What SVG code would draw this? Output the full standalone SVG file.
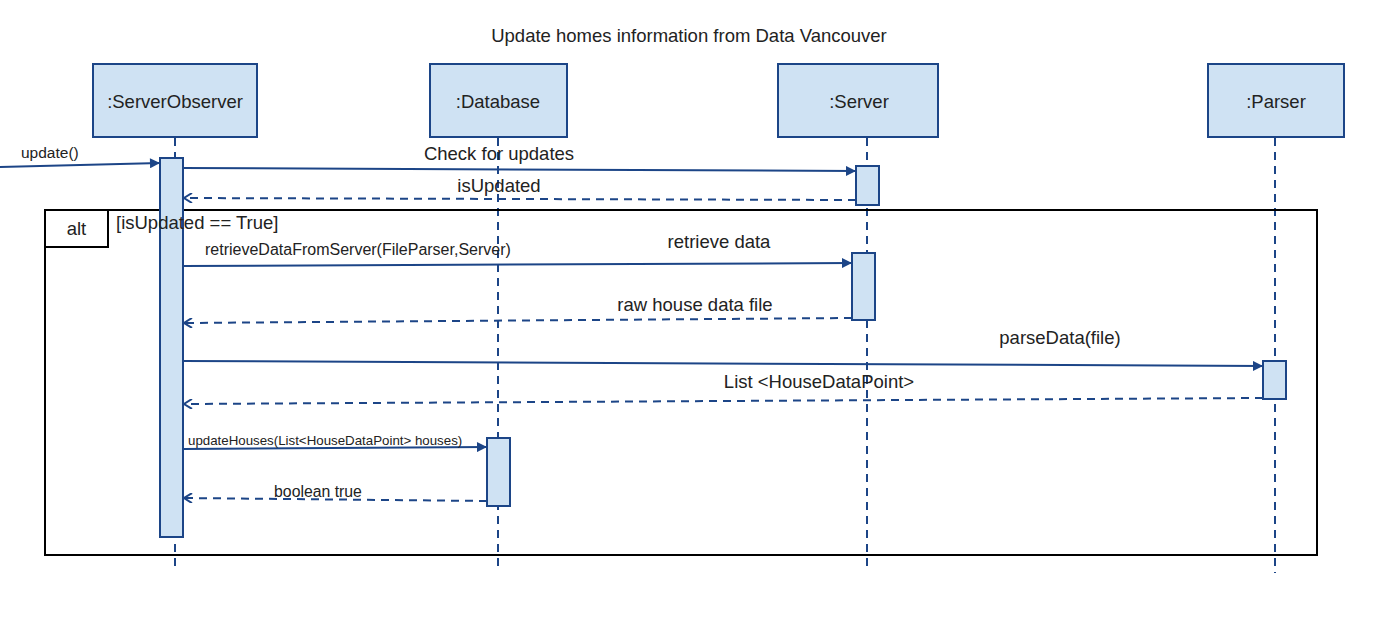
<svg xmlns="http://www.w3.org/2000/svg" width="1385" height="643" viewBox="0 0 1385 643">
<defs>
<style>
text{font-family:"Liberation Sans",Arial,sans-serif;fill:#222}
.node rect.box{fill:#cfe2f3;stroke:#1c4587;stroke-width:2}
.lbl{font-size:18.5px;text-anchor:middle}
.life{stroke:#1c4587;stroke-width:2;stroke-dasharray:8,6;fill:none}
.act{fill:#cfe2f3;stroke:#1c4587;stroke-width:2}
.msg{stroke:#1c4587;stroke-width:2;fill:none;marker-end:url(#filled)}
.ret{stroke:#1c4587;stroke-width:2;stroke-dasharray:8,6;fill:none;marker-end:url(#open)}
.sm{font-size:16px}
</style>
<marker id="filled" viewBox="0 0 10 10" refX="10" refY="5" markerWidth="12" markerHeight="10" markerUnits="userSpaceOnUse" orient="auto"><path d="M0,0 L10,5 L0,10 z" fill="#1c4587"/></marker>
<marker id="open" viewBox="0 0 10 10" refX="9" refY="5" markerWidth="12" markerHeight="10" markerUnits="userSpaceOnUse" orient="auto"><path d="M1,0 L9,5 L1,10" fill="none" stroke="#1c4587" stroke-width="2"/></marker>
</defs>
<rect width="1385" height="643" fill="#fff"/>
<text x="689" y="42" class="lbl">Update homes information from Data Vancouver</text>

<g id="lifelines">
<line class="life" x1="175" y1="138" x2="175" y2="567"/>
<line class="life" x1="498" y1="138" x2="498" y2="567"/>
<line class="life" x1="867" y1="138" x2="867" y2="567"/>
<line class="life" x1="1275" y1="138" x2="1275" y2="573"/>
</g>

<g id="alt-frame">
<rect x="45" y="210" width="1272" height="345" fill="none" stroke="#000" stroke-width="2"/>
<rect x="45" y="210" width="63" height="37" fill="#fff" stroke="#000" stroke-width="2"/>
<text x="76.5" y="235" class="lbl">alt</text>
</g>

<g id="node-serverobserver" class="node">
<rect class="box" x="93" y="64" width="164" height="73"/>
<text x="175" y="108" class="lbl">:ServerObserver</text>
<rect class="act" x="160" y="158" width="23" height="379"/>
</g>
<g id="node-database" class="node">
<rect class="box" x="430" y="64" width="137" height="73"/>
<text x="498" y="108" class="lbl">:Database</text>
<rect class="act" x="487" y="438" width="23" height="68"/>
</g>
<g id="node-server" class="node">
<rect class="box" x="778" y="64" width="160" height="73"/>
<text x="859" y="108" class="lbl">:Server</text>
<rect class="act" x="856" y="166" width="23" height="39"/>
<rect class="act" x="852" y="253" width="23" height="67"/>
</g>
<g id="node-parser" class="node">
<rect class="box" x="1208" y="64" width="136" height="73"/>
<text x="1276" y="108" class="lbl">:Parser</text>
<rect class="act" x="1263" y="361" width="23" height="38"/>
</g>

<g id="guard">
<text x="116" y="229" style="font-size:18.5px">[isUpdated == True]</text>
</g>

<g id="connectors">
<path class="msg" d="M0,167 L160,163"/>
<text x="21" y="158" style="font-size:15.5px">update()</text>

<path class="msg" d="M183,168 L856,171"/>
<text x="499" y="160" class="lbl">Check for updates</text>

<path class="ret" d="M856,200 L184,198"/>
<text x="499" y="192" class="lbl">isUpdated</text>

<path class="msg" d="M183,266 L852,263"/>
<text x="205" y="255" class="sm">retrieveDataFromServer(FileParser,Server)</text>
<text x="719" y="248" class="lbl">retrieve data</text>

<path class="ret" d="M852,318 L184,323"/>
<text x="695" y="311" class="lbl">raw house data file</text>

<path class="msg" d="M183,361 L1263,366"/>
<text x="1060" y="344" class="lbl">parseData(file)</text>

<path class="ret" d="M1263,398 L184,404"/>
<text x="819" y="388" class="lbl">List &lt;HouseDataPoint&gt;</text>

<path class="msg" d="M183,449 L487,447"/>
<text x="188" y="445" style="font-size:13.3px">updateHouses(List&lt;HouseDataPoint&gt; houses)</text>

<path class="ret" d="M487,501 L184,498"/>
<text x="318" y="497" class="lbl" style="font-size:15.8px">boolean true</text>
</g>
</svg>
